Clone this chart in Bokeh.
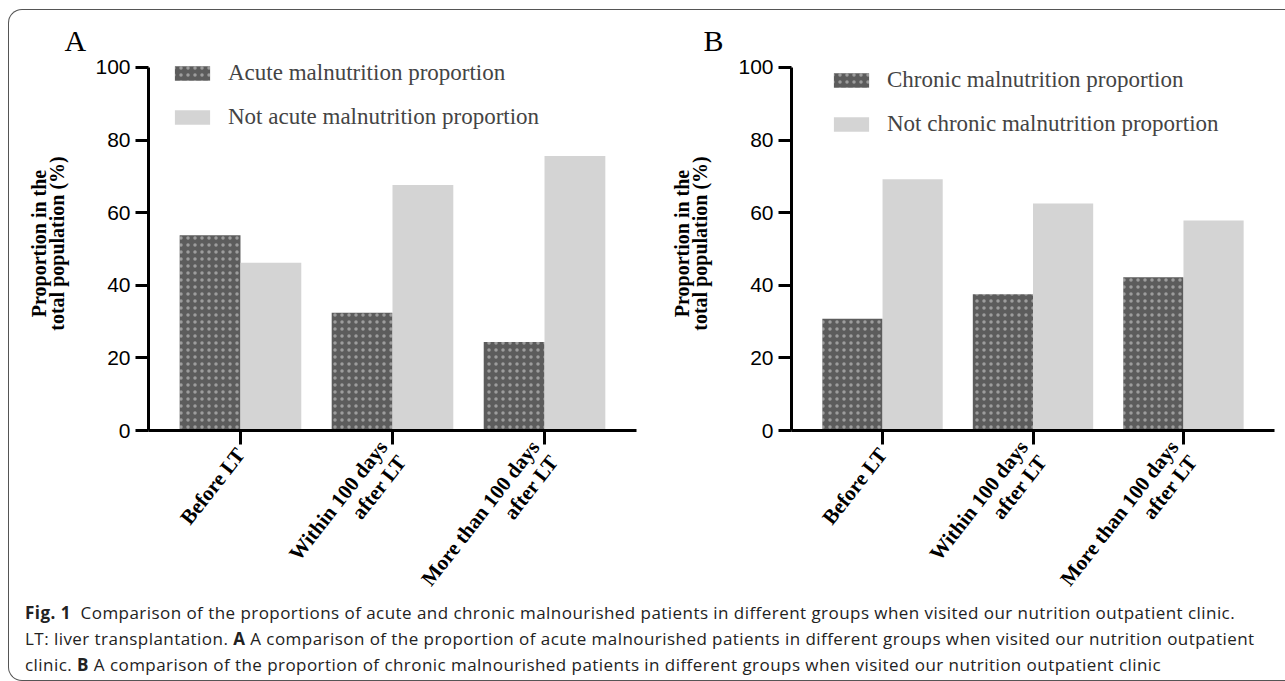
from bokeh.plotting import figure
from bokeh.models import ColumnDataSource, Range1d, FixedTicker, Legend, LegendItem, Div
from bokeh.layouts import row, column
from bokeh.transform import dodge
from bokeh.embed import file_html
from bokeh.resources import INLINE

# ---------------- data ----------------
groups = ["Before LT", "Within 100 days\nafter LT", "More than 100 days\nafter LT"]
acute = [53.8, 32.4, 24.4]
not_acute = [46.2, 67.6, 75.6]
chronic = [30.8, 37.5, 42.2]
not_chronic = [69.2, 62.5, 57.8]
y_ticks = [0, 20, 40, 60, 80, 100]
legend_a = ["Acute malnutrition proportion", "Not acute malnutrition proportion"]
legend_b = ["Chronic malnutrition proportion", "Not chronic malnutrition proportion"]

DARK = "#5c5c5c"
LIGHT = "#d4d4d4"
SERIF = "Liberation Serif"
SANS = "Liberation Sans"


def make_panel(letter, dark_vals, light_vals, names, width, left, right, leg_loc, letter_off):
    pos = list(range(1, len(groups) + 1))
    src = ColumnDataSource(dict(x=pos, dark=dark_vals, light=light_vals))
    p = figure(width=width, height=630,
               x_range=Range1d(0.395, len(groups) + 0.605), y_range=Range1d(0, 103),
               output_backend="svg", toolbar_location=None,
               min_border_left=left, min_border_right=right,
               min_border_top=46, min_border_bottom=210)
    p.outline_line_color = None
    p.xgrid.visible = False
    p.ygrid.visible = False
    p.border_fill_color = None
    p.background_fill_alpha = 0

    p.title.text = letter
    p.title.align = "left"
    p.title.offset = letter_off
    p.title.standoff = 0
    p.title.text_font = SERIF
    p.title.text_font_size = "30px"
    p.title.text_font_style = "normal"
    p.title.text_color = "black"

    r1 = p.vbar(x=dodge("x", -0.2, range=p.x_range), top="dark", width=0.4, source=src,
                fill_color=DARK, line_color=None,
                hatch_pattern="dot", hatch_color="white", hatch_scale=7,
                hatch_weight=0.5, hatch_alpha=0.4)
    r2 = p.vbar(x=dodge("x", 0.2, range=p.x_range), top="light", width=0.4, source=src,
                fill_color=LIGHT, line_color=None)

    # y axis
    ya = p.yaxis[0]
    ya.ticker = FixedTicker(ticks=y_ticks)
    ya.bounds = (0, 100)
    ya.minor_tick_line_color = None
    ya.axis_line_width = 3
    ya.major_tick_line_width = 3
    ya.major_tick_out = 13
    ya.major_tick_in = 0
    ya.major_label_text_font = SANS
    ya.major_label_text_font_size = "21px"
    ya.major_label_text_color = "black"
    ya.major_label_standoff = 5
    ya.axis_label = "Proportion in the\ntotal population (%)"
    ya.axis_label_text_font = SERIF
    ya.axis_label_text_font_size = "20px"
    ya.axis_label_text_font_style = "bold"
    ya.axis_label_text_color = "black"
    ya.axis_label_text_line_height = 0.85
    ya.axis_label_standoff = 24

    # x axis
    xa = p.xaxis[0]
    xa.ticker = FixedTicker(ticks=pos)
    xa.major_label_overrides = {i: g for i, g in zip(pos, groups)}
    xa.minor_tick_line_color = None
    xa.axis_line_width = 3
    xa.major_tick_line_width = 3
    xa.major_tick_out = 14
    xa.major_tick_in = 0
    xa.major_label_orientation = 0.9076
    xa.major_label_text_font = SERIF
    xa.major_label_text_font_size = "21px"
    xa.major_label_text_font_style = "bold"
    xa.major_label_text_color = "black"
    xa.major_label_text_line_height = 1.0
    xa.major_label_standoff = 6

    leg = Legend(items=[LegendItem(label=names[0], renderers=[r1]),
                        LegendItem(label=names[1], renderers=[r2])],
                 location=leg_loc, orientation="vertical",
                 background_fill_alpha=0, border_line_alpha=0,
                 label_text_font=SERIF, label_text_font_size="23px",
                 glyph_width=44, glyph_height=18, label_standoff=14,
                 spacing=18, padding=0, margin=0, label_height=22)
    p.add_layout(leg)
    return p


pA = make_panel("A", acute, not_acute, legend_a, 642, 139, 15, (22, 300), -84)
pB = make_panel("B", chronic, not_chronic, legend_b, 633, 140, 10, (38, 293), -88)

caption_html = (
    "<div style=\"font-family:'Open Sans';font-size:17px;letter-spacing:0.45px;line-height:26px;"
    "color:#222;white-space:nowrap;padding:0 0 0 11px;\">"
    "<b>Fig. 1</b>&nbsp; Comparison of the proportions of acute and chronic malnourished patients in different groups when visited our nutrition outpatient clinic.<br>"
    "LT: liver transplantation. <b>A</b> A comparison of the proportion of acute malnourished patients in different groups when visited our nutrition outpatient<br>"
    "clinic. <b>B</b> A comparison of the proportion of chronic malnourished patients in different groups when visited our nutrition outpatient clinic"
    "</div>"
)
caption = Div(text=caption_html, width=1270, height=75, styles={"margin-top": "-40px"})

layout = column(row(pA, pB), caption,
                styles={"margin-left": "8px", "margin-top": "9px",
                        "border-left": "1.5px solid #555", "border-top": "1.5px solid #555",
                        "border-bottom": "1.5px solid #555",
                        "border-top-left-radius": "14px", "border-bottom-left-radius": "14px",
                        "background": "white"})

open("out.html", "w").write(file_html(layout, INLINE))
